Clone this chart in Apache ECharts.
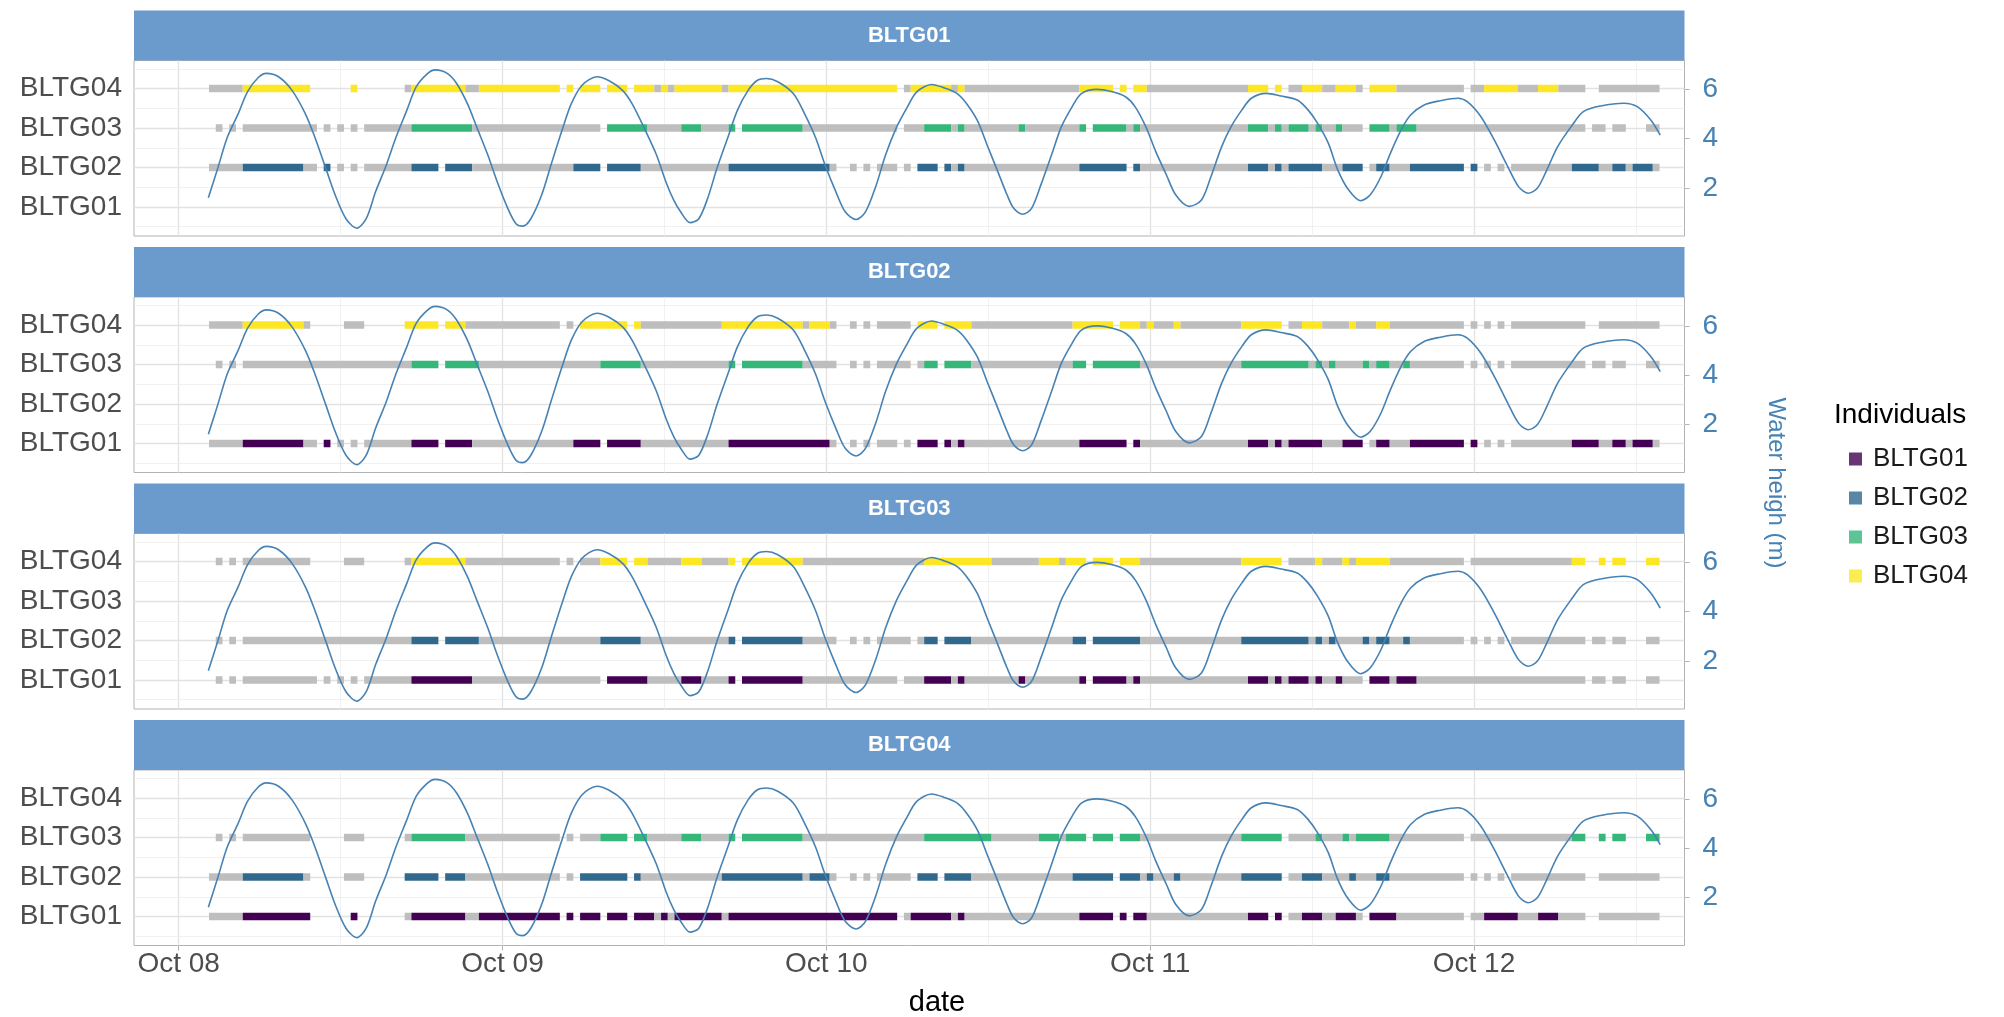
<!DOCTYPE html>
<html><head><meta charset="utf-8">
<script src="https://cdn.jsdelivr.net/npm/echarts@6/dist/echarts.min.js"></script>
<style>html,body{margin:0;padding:0;background:#fff}#c{width:2004px;height:1017px}</style>
</head><body><div id="c"></div>
<script>
// ---------- DATA ----------
const individuals = ['BLTG01','BLTG02','BLTG03','BLTG04'];
const indColors = ['#440154','#31688E','#35B779','#FDE725'];
// x: hours since Oct 08 00:00
const dayTicks = [0,24,48,72,96];
const dayLabels = ['Oct 08','Oct 09','Oct 10','Oct 11','Oct 12'];
const heightTicks = [2,4,6];
// detection segments for each pair: [start h, end h, together (1) / not (0)]
const pair12 = [[2.25,4.75,0],[4.75,9.25,1],[9.25,10.25,0],[10.75,11.25,1],[11.75,12.25,0],[12.75,13.25,0],[13.75,17.25,0],[17.25,19.25,1],[19.75,21.75,1],[21.75,29.25,0],[29.25,31.25,1],[31.75,34.25,1],[34.25,40.75,0],[40.75,48.25,1],[48.25,48.75,0],[49.75,50.25,0],[50.75,51.25,0],[51.75,53.25,0],[53.75,54.25,0],[54.75,56.25,1],[56.75,57.25,1],[57.25,57.75,0],[57.75,58.25,1],[58.25,66.75,0],[66.75,70.25,1],[70.75,71.25,1],[71.25,79.25,0],[79.25,80.75,1],[80.75,81.25,0],[81.25,81.75,1],[81.75,82.25,0],[82.25,84.75,1],[84.75,86.25,0],[86.25,87.75,1],[88.25,88.75,0],[88.75,89.75,1],[89.75,91.25,0],[91.25,95.25,1],[95.75,96.25,1],[96.75,97.25,0],[97.75,98.25,0],[98.75,103.25,0],[103.25,105.25,1],[105.25,106.25,0],[106.25,107.25,1],[107.25,107.75,0],[107.75,109.25,1],[109.25,109.75,0]];
const pair13 = [[2.75,3.25,0],[3.75,4.25,0],[4.75,10.25,0],[10.75,11.25,0],[11.75,12.25,0],[12.75,13.25,0],[13.75,17.25,0],[17.25,21.75,1],[21.75,31.25,0],[31.75,34.75,1],[34.75,37.25,0],[37.25,38.75,1],[38.75,40.75,0],[40.75,41.25,1],[41.75,46.25,1],[46.25,53.25,0],[53.75,55.25,0],[55.25,57.25,1],[57.25,57.75,0],[57.75,58.25,1],[58.25,62.25,0],[62.25,62.75,1],[62.75,66.75,0],[66.75,67.25,1],[67.75,70.25,1],[70.25,70.75,0],[70.75,71.25,1],[71.25,79.25,0],[79.25,80.75,1],[80.75,81.25,0],[81.25,81.75,1],[81.75,82.25,0],[82.25,83.75,1],[83.75,84.25,0],[84.25,84.75,1],[84.75,85.75,0],[85.75,86.25,1],[86.25,87.75,0],[88.25,89.75,1],[89.75,90.25,0],[90.25,91.75,1],[91.75,104.25,0],[104.75,105.75,0],[106.25,107.25,0],[108.75,109.75,0]];
const pair14 = [[2.25,4.75,0],[4.75,9.75,1],[12.75,13.25,1],[16.75,17.25,0],[17.25,21.25,1],[21.25,22.25,0],[22.25,28.25,1],[28.75,29.25,1],[29.75,31.25,1],[31.75,33.25,1],[33.75,35.25,1],[35.25,35.75,0],[35.75,36.25,1],[36.25,36.75,0],[36.75,40.25,1],[40.25,40.75,0],[40.75,53.25,1],[53.75,54.25,0],[54.25,57.25,1],[57.25,57.75,0],[57.75,58.25,1],[58.25,66.75,0],[66.75,69.25,1],[69.75,70.25,1],[70.75,71.75,1],[71.75,79.25,0],[79.25,80.75,1],[81.25,81.75,1],[82.25,83.25,0],[83.25,84.75,1],[84.75,85.75,0],[85.75,87.25,1],[87.25,87.75,0],[88.25,90.25,1],[90.25,95.25,0],[95.75,96.75,0],[96.75,99.25,1],[99.25,100.75,0],[100.75,102.25,1],[102.25,104.25,0],[105.25,109.75,0]];
const pair23 = [[2.75,3.25,0],[3.75,4.25,0],[4.75,17.25,0],[17.25,19.25,1],[19.75,22.25,1],[22.25,31.25,0],[31.25,34.25,1],[34.25,40.75,0],[40.75,41.25,1],[41.75,46.25,1],[46.25,48.75,0],[49.75,50.25,0],[50.75,51.25,0],[51.75,54.25,0],[54.75,55.25,0],[55.25,56.25,1],[56.75,58.75,1],[58.75,66.25,0],[66.25,67.25,1],[67.75,71.25,1],[71.25,78.75,0],[78.75,83.75,1],[83.75,84.25,0],[84.25,84.75,1],[84.75,85.25,0],[85.25,85.75,1],[85.75,87.75,0],[87.75,88.25,1],[88.25,88.75,0],[88.75,89.75,1],[89.75,90.75,0],[90.75,91.25,1],[91.25,95.25,0],[95.75,96.25,0],[96.75,97.25,0],[97.75,98.25,0],[98.75,104.25,0],[104.75,105.75,0],[106.25,107.25,0],[108.75,109.75,0]];
const pair24 = [[2.25,4.75,0],[4.75,9.25,1],[9.25,9.75,0],[12.25,13.75,0],[16.75,19.25,1],[19.75,21.25,1],[21.25,28.25,0],[28.75,29.25,0],[29.75,33.25,1],[33.75,34.25,1],[34.25,40.25,0],[40.25,46.25,1],[46.25,46.75,0],[46.75,48.25,1],[48.25,48.75,0],[49.75,50.25,0],[50.75,51.25,0],[51.75,54.25,0],[54.75,56.25,1],[56.75,58.75,1],[58.75,66.25,0],[66.25,69.25,1],[69.75,71.25,1],[71.25,71.75,0],[71.75,72.25,1],[72.25,73.75,0],[73.75,74.25,1],[74.25,78.75,0],[78.75,81.75,1],[82.25,83.25,0],[83.25,84.75,1],[84.75,86.75,0],[86.75,87.25,1],[87.25,88.75,0],[88.75,89.75,1],[89.75,95.25,0],[95.75,96.25,0],[96.75,97.25,0],[97.75,98.25,0],[98.75,104.25,0],[105.25,109.75,0]];
const pair34 = [[2.75,3.25,0],[3.75,4.25,0],[4.75,9.75,0],[12.25,13.75,0],[16.75,17.25,0],[17.25,21.25,1],[21.25,28.25,0],[28.75,29.25,0],[29.75,31.25,0],[31.25,33.25,1],[33.75,34.75,1],[34.75,37.25,0],[37.25,38.75,1],[38.75,40.75,0],[40.75,41.25,1],[41.75,46.25,1],[46.25,55.25,0],[55.25,60.25,1],[60.25,63.75,0],[63.75,65.25,1],[65.25,65.75,0],[65.75,67.25,1],[67.75,69.25,1],[69.75,71.25,1],[71.25,78.75,0],[78.75,81.75,1],[82.25,84.25,0],[84.25,84.75,1],[84.75,86.25,0],[86.25,86.75,1],[86.75,87.25,0],[87.25,89.75,1],[89.75,95.25,0],[95.75,103.25,0],[103.25,104.25,1],[105.25,105.75,1],[106.25,107.25,1],[108.75,109.75,1]];
// water height [hour, m]
const tide = [[2.2,1.61],[2.9,2.81],[3.6,4.05],[4.4,5.0],[5.1,5.9],[5.9,6.48],[6.5,6.65],[7.4,6.51],[8.4,5.96],[9.4,5.0],[10.1,4.05],[10.9,2.81],[11.6,1.72],[12.4,0.76],[13.2,0.38],[13.9,0.76],[14.6,1.86],[15.4,2.95],[16.1,4.05],[16.9,5.14],[17.6,6.1],[18.4,6.62],[19.0,6.79],[19.9,6.65],[20.6,6.24],[21.4,5.42],[22.1,4.46],[22.9,3.36],[23.6,2.27],[24.4,1.17],[25.0,0.56],[25.5,0.46],[26.1,0.76],[26.9,1.72],[27.6,2.95],[28.4,4.32],[29.1,5.42],[29.9,6.17],[31.0,6.51],[31.9,6.35],[32.9,5.96],[33.6,5.42],[34.6,4.32],[35.4,3.36],[36.1,2.27],[36.7,1.5],[37.2,1.04],[37.9,0.6],[38.55,0.76],[39.2,1.58],[39.9,2.81],[40.7,4.05],[41.4,5.14],[42.2,5.96],[42.9,6.37],[43.55,6.44],[44.4,6.31],[45.55,5.83],[46.4,5.0],[47.2,4.05],[47.9,2.95],[48.7,1.86],[49.4,1.04],[50.2,0.73],[50.9,1.04],[51.7,2.13],[52.4,3.36],[53.2,4.46],[54.0,5.28],[54.7,5.9],[55.8,6.2],[56.7,6.07],[57.7,5.83],[58.4,5.42],[59.2,4.73],[59.9,3.77],[60.7,2.68],[61.4,1.72],[61.9,1.17],[62.55,0.94],[63.2,1.17],[63.9,2.13],[64.7,3.36],[65.4,4.46],[66.2,5.28],[66.9,5.83],[68.05,6.0],[69.2,5.9],[70.2,5.69],[70.9,5.28],[71.7,4.46],[72.4,3.5],[73.2,2.54],[73.9,1.72],[74.9,1.26],[75.8,1.52],[76.5,2.46],[77.3,3.68],[78.0,4.49],[78.8,5.17],[79.5,5.64],[80.6,5.84],[81.7,5.73],[82.9,5.57],[83.7,5.17],[84.4,4.63],[85.2,3.82],[85.9,2.74],[86.7,1.93],[87.6,1.49],[88.3,1.72],[89.1,2.46],[89.8,3.41],[90.6,4.36],[91.3,4.96],[92.3,5.37],[93.5,5.54],[94.8,5.64],[95.5,5.5],[96.5,4.9],[97.5,3.95],[98.5,2.87],[99.3,2.06],[100.0,1.79],[100.7,2.0],[101.4,2.74],[102.2,3.68],[103.2,4.49],[104.1,5.1],[105.4,5.33],[107.1,5.44],[108.1,5.3],[109.1,4.76],[109.8,4.15]];

// ---------- LAYOUT ----------
const FONT = 'Liberation Sans, Arial, sans-serif';
const L = 134, W = 1550.5, PT = 60.5, PH = 175.5, STEP = 236.5, SH = 50;
const X_MIN = -3.31, X_MAX = 111.6;
const Y_MIN = 0.265, Y_MAX = 4.712, H_MIN = 0.06, H_MAX = 7.17;
const GRAY = '#BEBEBE', TIDE = '#4682B4';

function pairFor(a, b) {
  const lo = Math.min(a, b) + 1, hi = Math.max(a, b) + 1;
  return {'12':pair12,'13':pair13,'14':pair14,'23':pair23,'24':pair24,'34':pair34}['' + lo + hi];
}

const grids = [], xAxes = [], yAxes = [], series = [], graphics = [];
for (let k = 0; k < 4; k++) {
  const top = PT + STEP * k;
  grids.push({left: L, top: top, width: W, height: PH, show: true, borderColor: '#B3B3B3', borderWidth: 1, backgroundColor: '#fff', containLabel: false});
  xAxes.push({type: 'value', gridIndex: k, min: X_MIN, max: X_MAX,
    axisLine: {show: false}, splitLine: {show: false},
    axisTick: {show: k === 3, customValues: dayTicks, length: 5, lineStyle: {color: '#B3B3B3'}},
    axisLabel: {show: k === 3, customValues: dayTicks, margin: 5, fontSize: 28, color: '#4D4D4D', fontFamily: FONT,
      formatter: v => dayLabels[dayTicks.indexOf(Math.round(v))] || ''}});
  yAxes.push({type: 'value', gridIndex: k, min: Y_MIN, max: Y_MAX, position: 'left',
    axisLine: {show: false}, splitLine: {show: false},
    axisTick: {show: true, customValues: [1,2,3,4], length: 5, lineStyle: {color: '#B3B3B3'}},
    axisLabel: {customValues: [1,2,3,4], margin: 12, fontSize: 28, color: '#4D4D4D', fontFamily: FONT,
      formatter: v => individuals[Math.round(v) - 1] || ''}});
  yAxes.push({type: 'value', gridIndex: k, min: H_MIN, max: H_MAX, position: 'right',
    axisLine: {show: false}, splitLine: {show: false},
    axisTick: {show: true, customValues: heightTicks, length: 5, lineStyle: {color: '#B3B3B3'}},
    axisLabel: {customValues: heightTicks, margin: 18, fontSize: 28, color: TIDE, fontFamily: FONT}});
  // grid lines
  const gl = [];
  for (let h = 0; h <= 108; h += 12) gl.push({xAxis: h, lineStyle: {color: h % 24 === 0 ? '#E2E2E2' : '#EDEDED', width: h % 24 === 0 ? 1.3 : 0.8}});
  for (let y = 0.5; y <= 4.5; y += 0.5) gl.push({yAxis: y, lineStyle: {color: Number.isInteger(y) ? '#E2E2E2' : '#EDEDED', width: Number.isInteger(y) ? 1.3 : 0.8}});
  series.push({type: 'line', xAxisIndex: k, yAxisIndex: 2 * k, data: [], silent: true, z: 1,
    markLine: {z: 1, silent: true, symbol: ['none', 'none'], label: {show: false}, animation: false, data: gl, lineStyle: {type: 'solid'}}});
  // rows
  for (let j = 0; j < 4; j++) {
    if (j === k) continue;
    const segs = pairFor(k, j).map(s => [s[0], s[1], j + 1, s[2]]);
    const col = indColors[j];
    series.push({type: 'custom', xAxisIndex: k, yAxisIndex: 2 * k, z: 10, clip: true, silent: true,
      encode: {x: [0, 1], y: 2}, data: segs,
      renderItem: (params, api) => {
        const p0 = api.coord([api.value(0), api.value(2)]);
        const p1 = api.coord([api.value(1), api.value(2)]);
        const h = 7.5;
        return {type: 'rect', shape: {x: p0[0], y: p0[1] - h / 2, width: p1[0] - p0[0], height: h},
          style: {fill: api.value(3) ? col : GRAY, stroke: null, lineWidth: 0}};
      }});
  }
  series.push({type: 'line', xAxisIndex: k, yAxisIndex: 2 * k + 1, data: tide, showSymbol: false, smooth: 0.3,
    z: 20, silent: true, lineStyle: {color: TIDE, width: 1.6}});
  // strip
  graphics.push({type: 'rect', left: L, top: top - SH, shape: {width: W, height: SH}, style: {fill: '#6A9BCC'}, silent: true});
  graphics.push({type: 'text', x: L + W / 2, y: top - SH / 2, silent: true,
    style: {text: individuals[k], fill: '#fff', font: 'bold 22px ' + FONT, textAlign: 'center', textVerticalAlign: 'middle', align: 'center', verticalAlign: 'middle'}});
}
// legend dummies
individuals.forEach((n, i) => series.push({type: 'scatter', name: n, data: [], xAxisIndex: 0, yAxisIndex: 0, itemStyle: {color: indColors[i]}}));

graphics.push({type: 'text', x: 937, y: 1003, silent: true,
  style: {text: 'date', fill: '#000', font: '29px ' + FONT, textAlign: 'center', textVerticalAlign: 'middle', align: 'center', verticalAlign: 'middle'}});
graphics.push({type: 'text', x: 1776, y: 483, rotation: -Math.PI / 2, silent: true,
  style: {text: 'Water heigh (m)', fill: TIDE, font: '24px ' + FONT, textAlign: 'center', textVerticalAlign: 'middle', align: 'center', verticalAlign: 'middle'}});
graphics.push({type: 'text', x: 1834, y: 415, silent: true,
  style: {text: 'Individuals', fill: '#000', font: '28px ' + FONT, textAlign: 'left', textVerticalAlign: 'middle', align: 'left', verticalAlign: 'middle'}});

const chart = echarts.init(document.getElementById('c'));
chart.setOption({
  animation: false,
  grid: grids, xAxis: xAxes, yAxis: yAxes, series: series, graphic: graphics,
  legend: {data: individuals, orient: 'vertical', left: 1844, top: 441, icon: 'rect', itemWidth: 13, itemHeight: 13, itemGap: 13,
    textStyle: {fontSize: 26, color: '#1A1A1A', fontFamily: FONT, padding: [0, 0, 0, 6]}, selectedMode: false}
});
</script></body></html>
